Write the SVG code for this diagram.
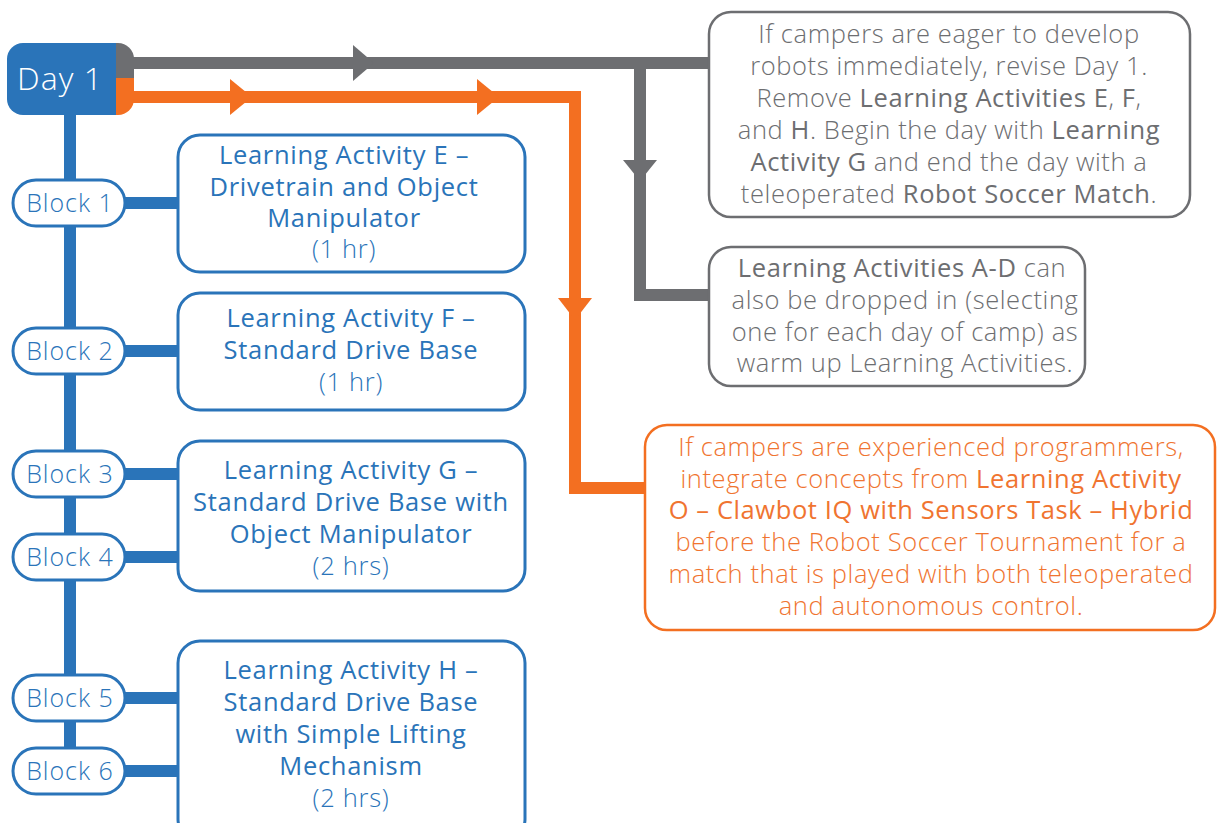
<svg xmlns="http://www.w3.org/2000/svg" width="1219" height="823" viewBox="0 0 1219 823">
<style>
.t{font-family:"Open Sans",Roboto,"Liberation Sans",sans-serif;text-anchor:middle;font-size:25.5px;letter-spacing:0.6px}
.l{font-weight:300}
.b{font-weight:400}
.gray{fill:#6d6e71}
.org{fill:#f07430}
.blue{fill:#2a74b9}
.bt{letter-spacing:0.7px}
.blk{font-size:25px;letter-spacing:1px}
.box{fill:#fff;stroke-width:2.5}
.bbox{fill:#fff;stroke:#2a74b9;stroke-width:3}
.pill{fill:#fff;stroke:#2a74b9;stroke-width:3}
</style>
<defs>
<clipPath id="dayclip"><rect x="7" y="43" width="127" height="72" rx="16"/></clipPath>
</defs>
<rect width="1219" height="823" fill="#fff"/>
<g id="connectors" fill="none">
<path d="M70 110 V771" stroke="#2a74b9" stroke-width="12"/>
<path d="M120 203 H180 M120 351 H180 M120 474 H180 M120 557 H180 M120 698 H180 M120 771 H180" stroke="#2a74b9" stroke-width="12"/>
<path d="M125 63 H712 M640 63 V295 H710" stroke="#6d6e71" stroke-width="12"/>
<path d="M125 97 H575 V488 H647" stroke="#f36f21" stroke-width="12"/>
<polygon points="353,45 353,81 374,63" fill="#6d6e71"/>
<polygon points="623,160 657,160 640,181" fill="#6d6e71"/>
<polygon points="230,79 230,115 252,97" fill="#f36f21"/>
<polygon points="477,79 477,115 499,97" fill="#f36f21"/>
<polygon points="558,298 592,298 575,320" fill="#f36f21"/>
</g>
<g id="day1">
<g clip-path="url(#dayclip)">
<rect x="7" y="43" width="110" height="72" fill="#2a74b9"/>
<rect x="116" y="43" width="20" height="35" fill="#6d6e71"/>
<rect x="116" y="78" width="20" height="37" fill="#f36f21"/>
</g>
<text x="60" y="90" class="t l" style="font-size:32px;letter-spacing:1px" fill="#fff">Day 1</text>
</g>
<g id="block1"><rect x="13" y="180" width="112" height="46" rx="23" class="pill"/><text x="70" y="212" class="t l blue blk">Block 1</text></g>
<g id="block2"><rect x="13" y="328" width="112" height="46" rx="23" class="pill"/><text x="70" y="360" class="t l blue blk">Block 2</text></g>
<g id="block3"><rect x="13" y="451" width="112" height="46" rx="23" class="pill"/><text x="70" y="483" class="t l blue blk">Block 3</text></g>
<g id="block4"><rect x="13" y="534" width="112" height="46" rx="23" class="pill"/><text x="70" y="566" class="t l blue blk">Block 4</text></g>
<g id="block5"><rect x="13" y="675" width="112" height="46" rx="23" class="pill"/><text x="70" y="707" class="t l blue blk">Block 5</text></g>
<g id="block6"><rect x="13" y="748" width="112" height="46" rx="23" class="pill"/><text x="70" y="780" class="t l blue blk">Block 6</text></g>
<g id="activityE">
<rect x="178" y="135" width="347" height="137" rx="22" class="bbox"/>
<text class="t blue b bt"><tspan x="344" y="164">Learning Activity E –</tspan><tspan x="344" y="196">Drivetrain and Object</tspan><tspan x="344" y="227">Manipulator</tspan><tspan x="344" y="258" class="l">(1 hr)</tspan></text>
</g>
<g id="activityF">
<rect x="178" y="293" width="347" height="117" rx="22" class="bbox"/>
<text class="t blue b bt"><tspan x="351" y="327">Learning Activity F –</tspan><tspan x="351" y="359">Standard Drive Base</tspan><tspan x="351" y="391" class="l">(1 hr)</tspan></text>
</g>
<g id="activityG">
<rect x="178" y="441" width="347" height="150" rx="22" class="bbox"/>
<text class="t blue b bt"><tspan x="351" y="479">Learning Activity G –</tspan><tspan x="351" y="511">Standard Drive Base with</tspan><tspan x="351" y="543">Object Manipulator</tspan><tspan x="351" y="575" class="l">(2 hrs)</tspan></text>
</g>
<g id="activityH">
<rect x="178" y="641" width="347" height="200" rx="22" class="bbox"/>
<text class="t blue b bt"><tspan x="351" y="679">Learning Activity H –</tspan><tspan x="351" y="711">Standard Drive Base</tspan><tspan x="351" y="743">with Simple Lifting</tspan><tspan x="351" y="775">Mechanism</tspan><tspan x="351" y="807" class="l">(2 hrs)</tspan></text>
</g>
<g id="note-eager">
<rect x="709" y="12" width="481" height="205" rx="22" class="box" stroke="#6d6e71"/>
<text class="t gray l"><tspan x="949" y="43">If campers are eager to develop</tspan><tspan x="949" y="75">robots immediately, revise Day 1.</tspan><tspan x="949" y="107">Remove <tspan class="b">Learning Activities E</tspan>, <tspan class="b">F</tspan>,</tspan><tspan x="949" y="139">and <tspan class="b">H</tspan>. Begin the day with <tspan class="b">Learning</tspan></tspan><tspan x="949" y="171"><tspan class="b">Activity G</tspan> and end the day with a</tspan><tspan x="949" y="203">teleoperated <tspan class="b">Robot Soccer Match</tspan>.</tspan></text>
</g>
<g id="note-warmup">
<rect x="709" y="247" width="376" height="139" rx="22" class="box" stroke="#6d6e71"/>
<text class="t gray l"><tspan x="902" y="277"><tspan class="b">Learning Activities A-D</tspan> can</tspan><tspan x="905" y="309">also be dropped in (selecting</tspan><tspan x="905" y="341">one for each day of camp) as</tspan><tspan x="905" y="372">warm up Learning Activities.</tspan></text>
</g>
<g id="note-experienced">
<rect x="645" y="425" width="570" height="205" rx="22" class="box" stroke="#f36f21"/>
<text class="t org l"><tspan x="931" y="456">If campers are experienced programmers,</tspan><tspan x="931" y="488">integrate concepts from <tspan class="b">Learning Activity</tspan></tspan><tspan x="931" y="519" class="b">O – Clawbot IQ with Sensors Task – Hybrid</tspan><tspan x="931" y="551">before the Robot Soccer Tournament for a</tspan><tspan x="931" y="583">match that is played with both teleoperated</tspan><tspan x="931" y="615">and autonomous control.</tspan></text>
</g>
</svg>
